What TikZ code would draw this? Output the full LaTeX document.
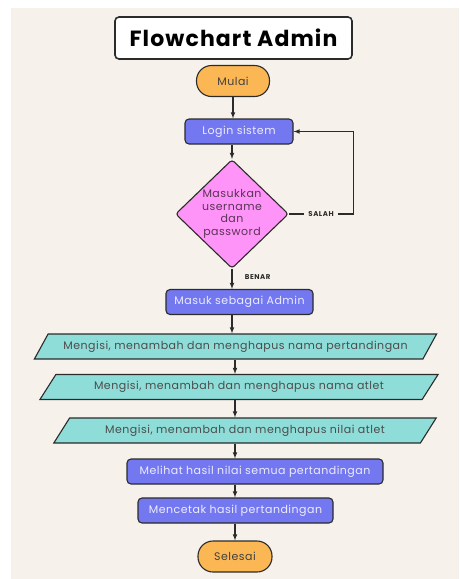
\documentclass[tikz,border=0pt]{standalone}
\usepackage{fontspec}
\setmainfont{Poppins}
\usetikzlibrary{shapes.geometric}
\definecolor{krem}{HTML}{F6F1EA}
\definecolor{garis}{HTML}{2B2B2B}
\definecolor{oranye}{HTML}{FCB755}
\definecolor{ungu}{HTML}{7478F0}
\definecolor{putih}{HTML}{ECECFF}
\definecolor{pink}{HTML}{FF94F8}
\definecolor{tosca}{HTML}{8EDDD8}
\begin{document}
\begin{tikzpicture}[x=1pt,y=-1pt,>=latex,
    isi/.style={font=\fontsize{11}{12.7}\selectfont\addfontfeatures{LetterSpace=4.5}},
    terminal/.style={isi,draw=garis,line width=1.1pt,fill=oranye,text=black!75,rounded corners=15pt,minimum width=73pt,minimum height=31pt,inner sep=0pt},
    proses/.style={isi,draw=garis,line width=1.1pt,fill=ungu,text=putih,rounded corners=4pt,minimum height=25pt,inner sep=0pt},
    data/.style={isi,trapezium,draw=garis,line width=1.1pt,fill=tosca,text=black!70,trapezium left angle=42,trapezium right angle=138,trapezium stretches=true,minimum height=25pt,inner sep=0pt},
    keputusan/.style={isi,diamond,draw=garis,line width=1.1pt,fill=pink,text=black!65!pink,align=center,minimum width=113pt,minimum height=104pt,inner sep=0pt,rounded corners=3pt},
    panah/.style={->,draw=garis,line width=1.1pt},
    lbl/.style={font=\fontsize{7}{8}\selectfont\bfseries\addfontfeatures{LetterSpace=8},text=garis}]
  \useasboundingbox (0,0) rectangle (459,579);
  \fill[krem] (11,8) rectangle (459,579);
  \node[draw=garis,line width=1.6pt,fill=white,rounded corners=4pt,minimum width=237pt,minimum height=42pt,font=\fontsize{22}{26}\selectfont\bfseries\addfontfeatures{LetterSpace=5}] (judul) at (233.5,38) {Flowchart Admin};
  \node[terminal] (mulai) at (233,81) {Mulai};
  \node[proses,minimum width=108pt] (login) at (239,131.5) {Login sistem};
  \node[keputusan] (cek) at (232,214) {Masukkan\\username\\dan\\password};
  \node[proses,minimum width=147pt] (admin) at (239.5,302) {Masuk sebagai Admin};
  \node[data,minimum width=403pt] (lomba) at (235.5,346.5) {Mengisi, menambah dan menghapus nama pertandingan};
  \node[data,minimum width=400pt] (atlet) at (239,387) {Mengisi, menambah dan menghapus nama atlet};
  \node[data,minimum width=384pt] (nilai) at (245,430.5) {Mengisi, menambah dan menghapus nilai atlet};
  \node[proses,minimum width=256pt] (hasil) at (255,471.5) {Melihat hasil nilai semua pertandingan};
  \node[proses,minimum width=195pt] (cetak) at (235.5,510.5) {Mencetak hasil pertandingan};
  \node[terminal,minimum width=74pt] (selesai) at (235,556.5) {Selesai};

  \draw[panah] (mulai.south) -- (mulai.south |- login.north);
  \draw[panah] (cek.north |- login.south) -- (cek.north);
  \draw[panah] (cek.east) -- node[lbl,fill=krem,inner sep=4pt] {SALAH} ++(64,0) |- (login.east);
  \draw[panah] (cek.south) -- node[lbl,right,pos=0.4,xshift=9pt] {BENAR} (cek.south |- admin.north);
  \draw[panah] (cek.south |- admin.south) -- (cek.south |- lomba.north);
  \draw[panah] (selesai.north |- lomba.south) -- (selesai.north |- atlet.north);
  \draw[panah] (selesai.north |- atlet.south) -- (selesai.north |- nilai.north);
  \draw[panah] (selesai.north |- nilai.south) -- (selesai.north |- hasil.north);
  \draw[panah] (selesai.north |- hasil.south) -- (selesai.north |- cetak.north);
  \draw[panah] (cetak.south -| selesai.north) -- (selesai.north);
\end{tikzpicture}
\end{document}
